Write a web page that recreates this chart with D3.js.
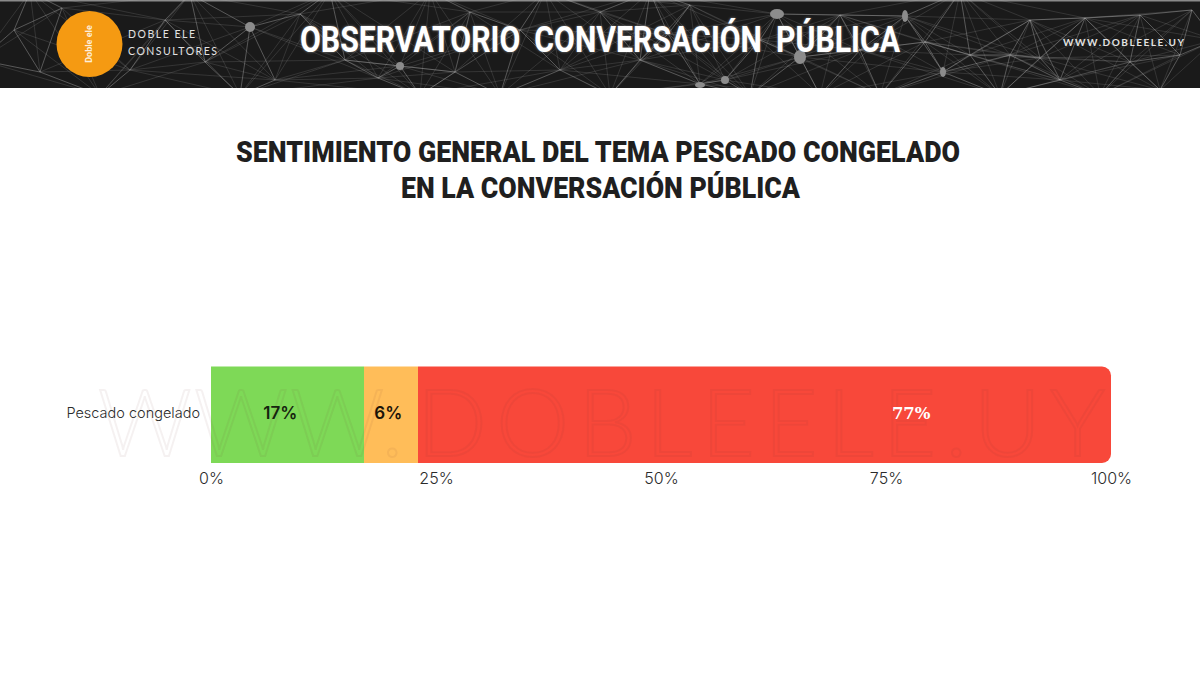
<!DOCTYPE html>
<html>
<head>
<meta charset="utf-8">
<script src="https://cdn.jsdelivr.net/npm/d3@7"></script>
<style>
  html, body { margin: 0; padding: 0; background: #fff; }
  svg { display: block; }
</style>
</head>
<body>
<svg class="chart"></svg>
<script>
const width = 1200;
const height = 675;

// data
const categories = ['Pescado congelado'];
const sentiments = ['Positivo', 'Neutro', 'Negativo'];
const values = [17, 6, 77];
const labelAt = [7.7, 19.7, 77.8]; // label centres on the 0-100 axis, not always mid segment
const colors = ['#7ED957', '#FFBD59', '#F8483A'];
const labelColors = ['#16240f', '#1c1408', '#ffffff'];
const tickValues = [0, 25, 50, 75, 100];
const titleLines = ['SENTIMIENTO GENERAL DEL TEMA PESCADO CONGELADO', 'EN LA CONVERSACIÓN PÚBLICA'];

// header background, points of the network picture
const netNodes = [
  [14, 30], [40, 72], [62, 8], [130, 70], [165, 20], [205, 62], [250, 27], [275, 80], [300, 14],
  [345, 60], [378, 78], [400, 66], [455, 72], [470, 12], [520, 30], [560, 70], [600, 12], [640, 60],
  [668, 34], [700, 84], [725, 80], [777, 14], [800, 57], [840, 15], [905, 16], [925, 42], [943, 72],
  [970, 55], [1010, 55], [1040, 58], [1085, 18], [1130, 62], [1140, 15], [1180, 55], [1192, 10],
  [-20, 60], [100, 95], [30, -8], [190, -6], [240, 95], [330, -8], [420, 95], [430, -8], [500, 95],
  [545, -8], [610, 95], [650, -8], [690, 5], [750, 95], [760, 40], [820, 95], [860, 50], [880, 95],
  [960, -8], [1000, 95], [1030, 20], [1060, 80], [1100, 95], [1160, 90], [1215, 40]
];
const bigNodes = [[777, 14, 7, 5], [800, 57, 6, 7], [725, 80, 4, 4], [700, 85, 5, 3], [905, 16, 3, 6], [943, 72, 3, 5], [400, 66, 4, 4], [250, 27, 5, 5]];

//svg element
const svg = d3.select('.chart')
    .attr('width', width)
    .attr('height', height)
    .attr('viewBox', `0 0 ${width} ${height}`);

svg.append('rect')
    .attr('width', width)
    .attr('height', height)
    .attr('fill', '#fff');

// header
const header = svg.append('g').attr('id', 'header');

const defs = svg.append('defs');
defs.append('clipPath').attr('id', 'header-clip')
    .append('rect').attr('width', width).attr('height', 88);
defs.append('filter').attr('id', 'soft')
    .append('feGaussianBlur').attr('stdDeviation', 0.5);

header.append('rect')
    .attr('width', width)
    .attr('height', 88)
    .attr('fill', '#1a1a1a');

header.append('rect')
    .attr('width', width)
    .attr('height', 1.5)
    .attr('fill', '#8a8a8a');

const net = header.append('g')
    .attr('clip-path', 'url(#header-clip)')
    .attr('filter', 'url(#soft)');

netNodes.forEach((a, i) => {
    netNodes.slice(i + 1).forEach(b => {
        const dist = Math.hypot(a[0] - b[0], a[1] - b[1]);
        if(dist < 150){
            net.append('line')
                .attr('x1', a[0]).attr('y1', a[1])
                .attr('x2', b[0]).attr('y2', b[1])
                .attr('stroke', '#b4b4b4')
                .attr('stroke-opacity', dist < 70 ? 0.5 : 0.22)
                .attr('stroke-width', 0.8);
        }
    });
});

net.selectAll('ellipse')
    .data(bigNodes).enter()
    .append('ellipse')
    .attr('cx', d => d[0])
    .attr('cy', d => d[1])
    .attr('rx', d => d[2])
    .attr('ry', d => d[3])
    .attr('fill', '#8c8c8c');

// logo
header.append('circle')
    .attr('cx', 89.5)
    .attr('cy', 44)
    .attr('r', 33)
    .attr('fill', '#F59A12');

header.append('text')
    .attr('transform', 'translate(92,44) rotate(-90)')
    .attr('text-anchor', 'middle')
    .attr('font-family', 'Roboto')
    .attr('font-weight', 700)
    .attr('font-size', 9)
    .attr('fill', '#fff')
    .attr('fill-opacity', 0.85)
    .text('Doble ele');

const logoText = ['DOBLE ELE', 'CONSULTORES'];
const logoWidths = [67, 89];
logoText.forEach((t, i) => {
    header.append('text')
        .attr('x', 128)
        .attr('y', 38 + i * 17)
        .attr('font-family', 'Lato')
        .attr('font-size', 10.5)
        .attr('textLength', logoWidths[i])
        .attr('fill', '#e2e2e2')
        .text(t);
});

header.append('text')
    .attr('x', 300)
    .attr('y', 52)
    .attr('font-family', 'Roboto')
    .attr('font-weight', 700)
    .attr('font-size', 37)
    .attr('word-spacing', 8)
    .attr('textLength', 600)
    .attr('lengthAdjust', 'spacingAndGlyphs')
    .attr('fill', '#fff')
    .attr('style', 'text-shadow: 0 0 3px #888')
    .text('OBSERVATORIO CONVERSACIÓN PÚBLICA');

header.append('text')
    .attr('x', 1063)
    .attr('y', 46)
    .attr('font-family', 'Lato')
    .attr('font-weight', 700)
    .attr('font-size', 10)
    .attr('textLength', 121)
    .attr('fill', '#e2e2e2')
    .text('WWW.DOBLEELE.UY');

// title
const titleWidths = [724, 399];
svg.append('g')
    .attr('id', 'title')
    .selectAll('text')
    .data(titleLines).enter()
    .append('text')
    .attr('x', (d, i) => i === 0 ? 236 : 401)
    .attr('y', (d, i) => 162 + i * 36)
    .attr('font-family', 'Roboto')
    .attr('font-weight', 900)
    .attr('font-size', 29.5)
    .attr('textLength', (d, i) => titleWidths[i])
    .attr('lengthAdjust', 'spacingAndGlyphs')
    .attr('fill', '#1f1f1f')
    .text(d => d);

// scales
const xScale = d3.scaleLinear()
    .domain([0, 100])
    .range([211, 1111]);

const yScale = d3.scaleBand()
    .domain(categories)
    .range([366.5, 463]);

const rows = categories.map(c => {
    const row = {category: c};
    sentiments.forEach((s, i) => { row[s] = values[i]; });
    return row;
});
const stacked = d3.stack().keys(sentiments)(rows);
const radius = 9;

// bars
const chart = svg.append('g').attr('id', 'bars');

stacked.forEach((layer, i) => {
    const d = layer[0];
    const x0 = xScale(d[0]);
    const x1 = xScale(d[1]);
    const y0 = yScale(d.data.category);
    const y1 = y0 + yScale.bandwidth();
    const r = i === stacked.length - 1 ? radius : 0;
    const p = d3.path();
    p.moveTo(x0, y0);
    p.lineTo(x1 - r, y0);
    p.arcTo(x1, y0, x1, y0 + r, r);
    p.lineTo(x1, y1 - r);
    p.arcTo(x1, y1, x1 - r, y1, r);
    p.lineTo(x0, y1);
    p.closePath();
    chart.append('path')
        .attr('d', p.toString())
        .attr('fill', colors[i]);
});

// watermark, two pieces so the letters land where they do in the picture
const markParts = [['WWW.', 98, 305], ['DOBLEELE.UY', 417, 688]];
svg.append('g')
    .attr('id', 'watermark')
    .selectAll('text')
    .data(markParts).enter()
    .append('text')
    .attr('x', d => d[1])
    .attr('y', 456)
    .attr('font-family', 'Lato')
    .attr('font-weight', 300)
    .attr('font-size', 92)
    .attr('textLength', d => d[2])
    .attr('fill', 'none')
    .attr('stroke', '#6b3a3a')
    .attr('stroke-opacity', 0.07)
    .attr('stroke-width', 2)
    .text(d => d[0]);

// bar labels
stacked.forEach((layer, i) => {
    const d = layer[0];
    svg.append('text')
        .attr('x', xScale(labelAt[i]))
        .attr('y', yScale(d.data.category) + yScale.bandwidth() / 2 - 2)
        .attr('dy', '0.35em')
        .attr('text-anchor', 'middle')
        .attr('font-family', i === 2 ? 'DejaVu Serif' : 'Inter')
        .attr('font-weight', i === 2 ? 700 : 600)
        .attr('font-size', i === 2 ? 16.5 : 17)
        .attr('fill', labelColors[i])
        .text(`${values[i]}%`);
});

// yAxis
const yAxis = d3.axisLeft(yScale).tickSize(0).tickPadding(11);
const yG = svg.append('g')
    .attr('id', 'y-axis')
    .attr('transform', 'translate(211,-1.5)')
    .call(yAxis);
yG.select('.domain').remove();
yG.selectAll('text')
    .attr('font-family', 'Inter')
    .attr('font-weight', 300)
    .attr('font-size', 14.5)
    .attr('fill', '#2b2b2b');

// xAxis
const xAxis = d3.axisBottom(xScale)
    .tickValues(tickValues)
    .tickFormat(d => `${d}%`)
    .tickSize(0)
    .tickPadding(10);
const xG = svg.append('g')
    .attr('id', 'x-axis')
    .attr('transform', 'translate(0,463)')
    .call(xAxis);
xG.select('.domain').remove();
xG.selectAll('text')
    .attr('font-family', 'Inter')
    .attr('font-weight', 300)
    .attr('font-size', 16)
    .attr('fill', '#2b2b2b');
</script>
</body>
</html>
